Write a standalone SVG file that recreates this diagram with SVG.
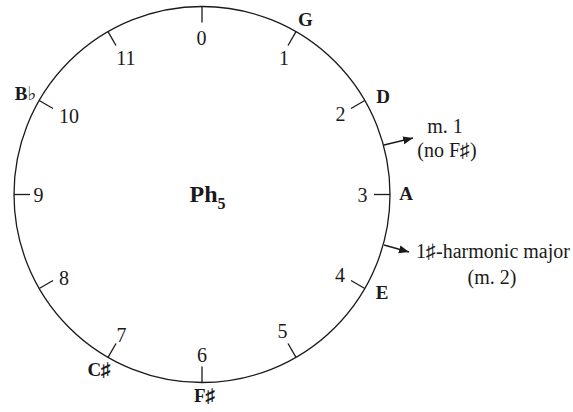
<svg xmlns="http://www.w3.org/2000/svg" width="573" height="412" viewBox="0 0 573 412">
<style>
.ln{stroke:#1a1a1a;stroke-width:1.3;fill:none}
.num{font-family:"Liberation Serif","DejaVu Serif",serif;font-size:20px;fill:#1a1a1a;text-anchor:middle}
.note{font-family:"Liberation Serif","DejaVu Serif",serif;font-size:19px;font-weight:bold;fill:#1a1a1a;text-anchor:middle}
.ann{font-family:"Liberation Serif","DejaVu Serif",serif;font-size:20px;fill:#1a1a1a;text-anchor:middle}
</style>
<defs>
<marker id="ah" markerUnits="userSpaceOnUse" markerWidth="11" markerHeight="9" refX="10" refY="4" orient="auto">
<path d="M0,0 L10,4 L0,8 z" fill="#1a1a1a"/>
</marker>
</defs>
<rect width="573" height="412" fill="#fff"/>
<g id="circle">
<circle class="ln" cx="202" cy="194.5" r="188"/>
</g>
<g id="ticks" class="ln">
<line x1="202" y1="6.5" x2="202" y2="22.5"/>
<line x1="296" y1="31.7" x2="288" y2="45.5"/>
<line x1="364.8" y1="100.5" x2="351" y2="108.5"/>
<line x1="390" y1="194.5" x2="374" y2="194.5"/>
<line x1="364.8" y1="288.5" x2="351" y2="280.5"/>
<line x1="296" y1="357.3" x2="288" y2="343.5"/>
<line x1="202" y1="382.5" x2="202" y2="366.5"/>
<line x1="108" y1="357.3" x2="116" y2="343.5"/>
<line x1="39.2" y1="288.5" x2="53" y2="280.5"/>
<line x1="14" y1="194.5" x2="30" y2="194.5"/>
<line x1="39.2" y1="100.5" x2="53" y2="108.5"/>
<line x1="108" y1="31.7" x2="116" y2="45.5"/>
</g>
<g id="numbers">
<text class="num" x="201.5" y="45">0</text>
<text class="num" x="284" y="65">1</text>
<text class="num" x="340.5" y="121">2</text>
<text class="num" x="362.6" y="202">3</text>
<text class="num" x="340" y="282">4</text>
<text class="num" x="282.5" y="338">5</text>
<text class="num" x="202" y="362">6</text>
<text class="num" x="121.5" y="342">7</text>
<text class="num" x="64" y="285">8</text>
<text class="num" x="38.5" y="202">9</text>
<text class="num" x="69" y="123">10</text>
<text class="num" x="126" y="65">11</text>
</g>
<g id="notes">
<text id="note-G" class="note" x="305.5" y="26">G</text>
<text id="note-D" class="note" x="383" y="103">D</text>
<text id="note-A" class="note" x="406" y="200">A</text>
<text id="note-E" class="note" x="382" y="299">E</text>
<text id="note-Fs" class="note" x="204.5" y="402">F♯</text>
<text id="note-Cs" class="note" x="99" y="376">C♯</text>
<text id="note-Bb" class="note" x="25.6" y="100">B♭</text>
</g>
<g id="center-label">
<text x="189.5" y="202" font-family="Liberation Serif, DejaVu Serif, serif" font-weight="bold" font-size="24" fill="#1a1a1a">Ph<tspan font-size="16" dy="7">5</tspan></text>
</g>
<g id="connectors" class="ln">
<line x1="384" y1="145" x2="413" y2="138" marker-end="url(#ah)"/>
<line x1="384" y1="245" x2="409" y2="252" marker-end="url(#ah)"/>
</g>
<g id="annotation-m1">
<text class="ann" x="445" y="133">m. 1</text>
<text class="ann" x="447" y="157">(no F♯)</text>
</g>
<g id="annotation-m2">
<text class="ann" x="493" y="258">1♯-harmonic major</text>
<text class="ann" x="492" y="284">(m. 2)</text>
</g>
</svg>
